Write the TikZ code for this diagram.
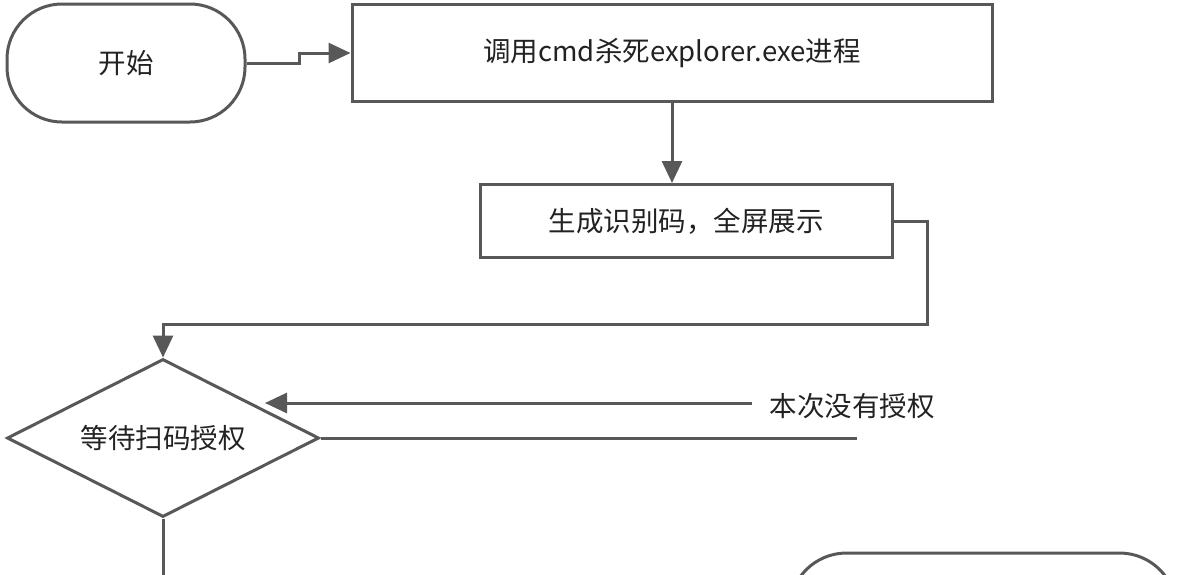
\documentclass[tikz,border=0pt]{standalone}
\usepackage{fontspec}
\setmainfont{Noto Sans CJK SC}
\usetikzlibrary{arrows.meta,shapes.geometric}
\definecolor{ln}{RGB}{88,88,88}
\definecolor{tx}{RGB}{34,34,34}
\begin{document}
\begin{tikzpicture}[x=1pt,y=-1pt,
  every node/.style={font=\fontsize{27.5}{32}\selectfont, text=tx},
  boxshape/.style={draw=ln, line width=3pt, fill=white, inner sep=0pt},
  conn/.style={draw=ln, line width=3pt},
  arr/.style={conn, -{Triangle[length=22pt,width=20pt]}}]
\useasboundingbox (0,0) rectangle (1182,574);
\clip (0,0) rectangle (1182,574);
\node[boxshape, rounded corners=55pt, minimum width=238pt, minimum height=118pt] (start) at (126,63) {\raisebox{-3pt}{开始}};
\node[boxshape, minimum width=640pt, minimum height=97pt] (b1) at (672,53) {\raisebox{-2pt}{调用cmd杀死explorer.exe进程}};
\node[boxshape, minimum width=412pt, minimum height=73pt] (b2) at (686,221) {\raisebox{-2pt}{生成识别码，全屏展示}};
\node[boxshape, diamond, aspect=1.96, minimum width=312pt, minimum height=158pt] (dia) at (163,438) {\raisebox{-2pt}{等待扫码授权}};
\node (lbl) at (852,406) {本次没有授权};
\node[boxshape, rounded corners=57pt, minimum width=387pt, minimum height=118pt] (fin) at (983,612) {};
\coordinate (retS) at (752,403);
\coordinate (retE) at (265,403);
\coordinate (outE) at (857,438);
\coordinate (downE) at (163,600);
\draw[arr] (start.east) -- ++(53,0) |- (b1.west);
\draw[arr] (b1.south) -- (b1.south |- b2.north);
\draw[arr] (b2.east) -- ++(34,0) -- ++(0,103) -| (dia.north);
\draw[arr] (retS) -- (retE);
\draw[conn] (dia.east) -- (outE);
\draw[conn] (dia.south) -- (downE);
\end{tikzpicture}
\end{document}
